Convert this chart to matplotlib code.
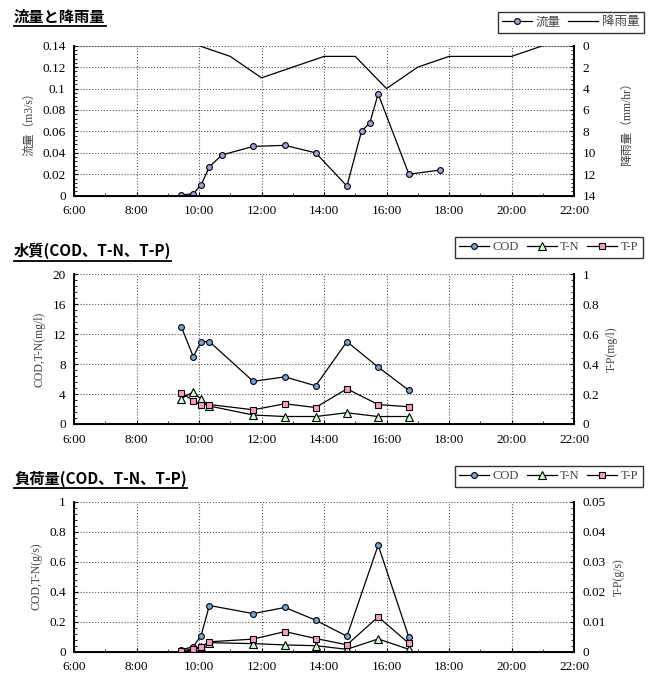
import matplotlib
matplotlib.use("Agg")
import matplotlib.pyplot as plt
from matplotlib.ticker import MultipleLocator, AutoMinorLocator, FuncFormatter
from matplotlib.lines import Line2D

plt.rcParams['font.family'] = ['Liberation Serif', 'Noto Sans CJK JP']
plt.rcParams['axes.unicode_minus'] = False

# --- data ---
flow_times = ["9:26", "9:49", "10:04", "10:20", "10:44", "11:44", "12:45",
              "13:44", "14:44", "15:12", "15:28", "15:44", "16:43", "17:43"]
flow = [0.0005, 0.002, 0.010, 0.027, 0.038, 0.046, 0.047,
        0.040, 0.009, 0.060, 0.068, 0.095, 0.020, 0.024]

rain_times = ["6:00", "7:00", "8:00", "9:00", "10:00", "11:00", "12:00", "13:00",
              "14:00", "15:00", "16:00", "17:00", "18:00", "19:00", "20:00",
              "21:00", "22:00"]
rain = [0, 0, 0, 0, 0, 1, 3, 2, 1, 1, 4, 2, 1, 1, 1, 0, 0]

wq_times = ["9:26", "9:49", "10:04", "10:20", "11:44", "12:45",
            "13:44", "14:44", "15:44", "16:43"]
cod = [13.0, 9.0, 11.0, 11.0, 5.7, 6.3, 5.1, 11.0, 7.6, 4.5]
tn = [3.4, 4.3, 3.3, 2.4, 1.2, 1.0, 1.0, 1.5, 1.0, 1.0]
tp = [0.21, 0.155, 0.13, 0.13, 0.095, 0.135, 0.11, 0.235, 0.13, 0.115]

cod_load = [0.013, 0.033, 0.108, 0.308, 0.254, 0.295, 0.21, 0.103, 0.71, 0.096]
tn_load = [0.002, 0.009, 0.033, 0.06, 0.054, 0.045, 0.04, 0.016, 0.085, 0.016]
tp_load = [0.0002, 0.001, 0.0017, 0.0033, 0.0042, 0.0067, 0.0044, 0.0023, 0.0116, 0.0028]


def to_hours(times):
    out = []
    for t in times:
        h, m = t.split(":")
        out.append(int(h) + int(m) / 60)
    return out


W, H = 651, 677
fig = plt.figure(figsize=(W / 100, H / 100), dpi=100)

TICK_FS = 9.5
LABEL_FS = 8.5
LABEL_COLOR = "#444444"
PURPLE = "#B794E8"
BLUE = "#6FA8E8"
GREEN = "#CCFFCC"
PINK = "#FF99CC"


def make_axes(top_px, bottom_px):
    left = 74 / W
    width = 500 / W
    ax = fig.add_axes([left, 1 - bottom_px / H, width, (bottom_px - top_px) / H])
    ax.set_xlim(6, 22)
    ax.xaxis.set_major_locator(MultipleLocator(2))
    ax.xaxis.set_minor_locator(MultipleLocator(1))
    ax.xaxis.set_major_formatter(FuncFormatter(lambda v, p: f"{int(v)}:00"))
    ax.grid(True, which="major", linestyle=":", color="#555555", linewidth=0.8)
    ax.spines["top"].set_visible(False)
    for s in ("left", "bottom", "right"):
        ax.spines[s].set_linewidth(1.4)
    ax.tick_params(which="both", direction="in", labelsize=TICK_FS)
    ax.tick_params(axis="x", which="major", pad=7, length=3)
    ax.tick_params(axis="y", which="major", pad=6, length=3)
    ax.tick_params(which="minor", length=2)
    ax.yaxis.set_minor_locator(AutoMinorLocator(5))
    ax2 = ax.twinx()
    ax2.spines["top"].set_visible(False)
    ax2.spines["right"].set_linewidth(1.4)
    ax2.tick_params(which="both", direction="in", labelsize=TICK_FS, pad=6)
    ax2.tick_params(which="major", length=3)
    ax2.tick_params(which="minor", length=2)
    ax2.yaxis.set_minor_locator(AutoMinorLocator(5))
    return ax, ax2


def title(text, y_px):
    t = fig.text(14 / W, 1 - y_px / H, text, fontsize=11, fontweight="bold",
                 family=["Noto Sans CJK JP"], va="center", ha="left")
    return t


def legend(handles, labels, right_px, top_px, ncol):
    leg = fig.legend(handles, labels, loc="upper right",
                     bbox_to_anchor=(right_px / W, 1 - top_px / H),
                     ncol=ncol, frameon=True, fancybox=False, edgecolor="black",
                     fontsize=9, handlelength=2.4, handletextpad=0.3,
                     columnspacing=0.6, borderpad=0.35, borderaxespad=0)
    leg.get_frame().set_linewidth(1.0)
    for txt in leg.get_texts():
        txt.set_color(LABEL_COLOR)
    return leg


# --- panel 1: flow and rainfall ---
ax1, ax1r = make_axes(45.7, 195.7)
ax1.set_ylim(0, 0.14)
ax1.yaxis.set_major_locator(MultipleLocator(0.02))
ax1.yaxis.set_major_formatter(FuncFormatter(lambda v, p: f"{v:.2f}".rstrip("0").rstrip(".") if v else "0"))
l_flow, = ax1.plot(to_hours(flow_times), flow, color="black", linewidth=0.9,
                   marker="o", markersize=4.2, markerfacecolor=PURPLE,
                   markeredgecolor="black", markeredgewidth=0.8, label="流量")
ax1.set_ylabel("流量（m3/s）", fontsize=LABEL_FS, color=LABEL_COLOR, labelpad=5)
ax1r.set_ylim(14, 0)
ax1r.yaxis.set_major_locator(MultipleLocator(2))
l_rain, = ax1r.plot(to_hours(rain_times), rain, color="black", linewidth=0.9, label="降雨量")
ax1r.set_ylabel("降雨量（mm/hr）", fontsize=LABEL_FS, color=LABEL_COLOR, labelpad=18)
title("流量と降雨量", 17)
legend([l_flow, l_rain], ["流量", "降雨量"], 644, 12, 2)

# --- panel 2: water quality ---
ax2, ax2r = make_axes(274.3, 424)
ax2.set_ylim(0, 20)
ax2.yaxis.set_major_locator(MultipleLocator(4))
wq_h = to_hours(wq_times)
l_cod, = ax2.plot(wq_h, cod, color="black", linewidth=0.9, marker="o", markersize=4.2,
                  markerfacecolor=BLUE, markeredgecolor="black", markeredgewidth=0.8)
l_tn, = ax2.plot(wq_h, tn, color="black", linewidth=0.9, marker="^", markersize=5.5,
                 markerfacecolor=GREEN, markeredgecolor="black", markeredgewidth=0.8)
ax2.set_ylabel("COD,T-N(mg/l)", fontsize=LABEL_FS, color=LABEL_COLOR, labelpad=5)
ax2r.set_ylim(0, 1)
ax2r.yaxis.set_major_locator(MultipleLocator(0.2))
ax2r.yaxis.set_major_formatter(FuncFormatter(lambda v, p: f"{v:.1f}".rstrip("0").rstrip(".") if v else "0"))
l_tp, = ax2r.plot(wq_h, tp, color="black", linewidth=0.9, marker="s", markersize=4.5,
                  markerfacecolor=PINK, markeredgecolor="black", markeredgewidth=0.8)
ax2r.set_ylabel("T-P(mg/l)", fontsize=LABEL_FS, color=LABEL_COLOR, labelpad=5)
title("水質(COD、T-N、T-P)", 251)
legend([l_cod, l_tn, l_tp], ["COD", "T-N", "T-P"], 643, 237, 3)

# --- panel 3: loads ---
ax3, ax3r = make_axes(501.7, 651.7)
ax3.set_ylim(0, 1)
ax3.yaxis.set_major_locator(MultipleLocator(0.2))
ax3.yaxis.set_major_formatter(FuncFormatter(lambda v, p: f"{v:.1f}".rstrip("0").rstrip(".") if v else "0"))
m_cod, = ax3.plot(wq_h, cod_load, color="black", linewidth=0.9, marker="o", markersize=4.2,
                  markerfacecolor=BLUE, markeredgecolor="black", markeredgewidth=0.8)
m_tn, = ax3.plot(wq_h, tn_load, color="black", linewidth=0.9, marker="^", markersize=5.5,
                 markerfacecolor=GREEN, markeredgecolor="black", markeredgewidth=0.8)
ax3.set_ylabel("COD,T-N(g/s)", fontsize=LABEL_FS, color=LABEL_COLOR, labelpad=5)
ax3r.set_ylim(0, 0.05)
ax3r.yaxis.set_major_locator(MultipleLocator(0.01))
ax3r.yaxis.set_major_formatter(FuncFormatter(lambda v, p: f"{v:.2f}" if v else "0"))
m_tp, = ax3r.plot(wq_h, tp_load, color="black", linewidth=0.9, marker="s", markersize=4.5,
                  markerfacecolor=PINK, markeredgecolor="black", markeredgewidth=0.8)
ax3r.set_ylabel("T-P(g/s)", fontsize=LABEL_FS, color=LABEL_COLOR, labelpad=5)
title("負荷量(COD、T-N、T-P)", 479)
legend([m_cod, m_tn, m_tp], ["COD", "T-N", "T-P"], 643, 466, 3)

# underline the titles
fig.canvas.draw()
renderer = fig.canvas.get_renderer()
for t in fig.texts:
    bb = t.get_window_extent(renderer).transformed(fig.transFigure.inverted())
    fig.add_artist(Line2D([bb.x0, bb.x1], [bb.y0 - 0.002, bb.y0 - 0.002],
                          transform=fig.transFigure, color="black", linewidth=1.3))

fig.savefig("out.png", dpi=100)
